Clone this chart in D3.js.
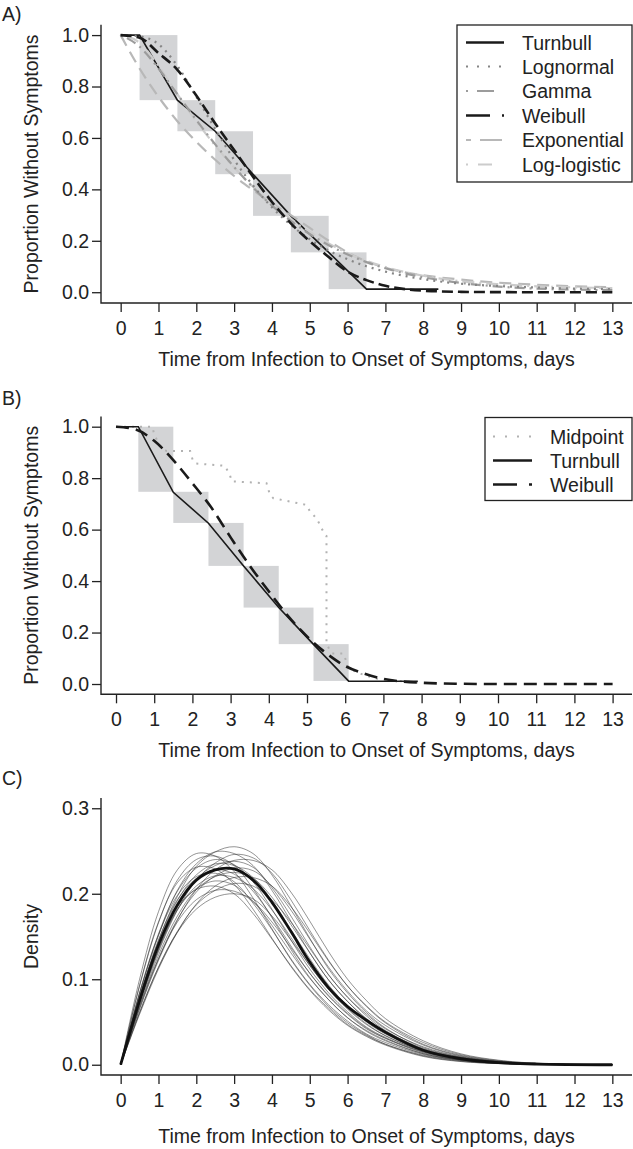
<!DOCTYPE html>
<html><head><meta charset="utf-8">
<script src="https://cdn.jsdelivr.net/npm/d3@7"></script>
<style>body{margin:0;background:#fff}svg{display:block}</style>
</head><body><svg id="chart" width="633" height="1149"></svg>
<script>
// ---------------- data ----------------
const dayTicks = [0,1,2,3,4,5,6,7,8,9,10,11,12,13];
const survTicks = [0,0.2,0.4,0.6,0.8,1.0];
const densTicks = [0,0.1,0.2,0.3];
const xTitle = "Time from Infection to Onset of Symptoms, days";
const survTitle = "Proportion Without Symptoms";
const densTitle = "Density";

// Panel A
const gridA = [0,0.5,1,1.5,2,2.5,3,3.5,4,4.5,5,5.5,6,6.5,7,8,9,10,11,12,13];
const weibullA     = [1,0.99,0.93,0.865,0.765,0.656,0.553,0.449,0.351,0.268,0.198,0.137,0.08,0.047,0.025,0.006,0.0015,0.0003,0,0,0];
const lognormalA   = [1,0.995,0.965,0.88,0.76,0.635,0.515,0.415,0.33,0.262,0.206,0.162,0.128,0.101,0.08,0.051,0.033,0.024,0.018,0.014,0.012];
const gammaA       = [1,0.955,0.87,0.77,0.67,0.575,0.487,0.407,0.337,0.277,0.226,0.183,0.147,0.117,0.093,0.058,0.036,0.022,0.014,0.01,0.008];
const exponentialA = [1,0.87,0.76,0.665,0.585,0.515,0.452,0.397,0.345,0.3,0.25,0.2,0.155,0.12,0.095,0.066,0.049,0.037,0.029,0.023,0.019];
const loglogisticA = [1,0.97,0.88,0.77,0.665,0.57,0.485,0.41,0.345,0.285,0.235,0.19,0.152,0.122,0.098,0.064,0.043,0.031,0.023,0.019,0.016];
const turnbullTimeA = [0,0.5,1.5,2.5,3.5,4.5,5.5,6.5,8.4];
const turnbullSurvA = [1,1,0.747,0.626,0.459,0.297,0.155,0.012,0.012];
const boxLeftA  = [0.5,1.5,2.5,3.5,4.5,5.5];
const boxRightA = [1.5,2.5,3.5,4.5,5.5,6.5];
const boxUpper  = [1.0,0.747,0.626,0.459,0.297,0.155];
const boxLower  = [0.747,0.626,0.459,0.297,0.155,0.012];

// Panel B
const weibullB = [1,0.99,0.945,0.87,0.78,0.685,0.57,0.46,0.36,0.265,0.185,0.12,0.07,0.04,0.02,0.005,0.001,0,0,0,0];
const turnbullTimeB = [0,0.584,1.5,2.42,3.34,4.26,5.17,6.09,7.9];
const turnbullSurvB = [1,1,0.745,0.625,0.459,0.297,0.154,0.011,0.011];
const boxLeftB  = [0.584,1.5,2.42,3.34,4.26,5.17];
const boxRightB = [1.5,2.42,3.34,4.26,5.17,6.09];
const midpointTimeB = [0,0.95,1.0,1.1,1.24,1.33,1.94,2.02,2.1,2.85,2.98,3.03,3.1,3.94,4.03,4.12,4.99,5.08,5.25,5.34,5.47,5.51,5.51,5.6,5.65,5.95,6.1,6.4,6.6,6.85,7.4,8.0];
const midpointSurvB = [1,1,0.97,0.94,0.91,0.906,0.906,0.864,0.857,0.848,0.813,0.787,0.787,0.78,0.735,0.722,0.696,0.67,0.644,0.618,0.579,0.575,0.158,0.13,0.119,0.119,0.06,0.04,0.03,0.02,0.012,0.005];

// Panel C
const gridC = [0,0.5,1,1.5,2,2.5,3,3.5,4,4.5,5,5.5,6,6.5,7,8,9,10,11,13];
const densityFit = [0,0.075,0.14,0.187,0.216,0.228,0.229,0.216,0.19,0.156,0.12,0.09,0.068,0.052,0.038,0.017,0.007,0.0025,0.0008,0];
const densityDraws = [
 [0,.100,.179,.228,.247,.244,.226,.195,.159,.123,.093,.068,.049,.035,.024,.0104,.004,.0014,.0004,0],
 [0,.093,.167,.213,.231,.229,.211,.182,.148,.115,.087,.064,.046,.033,.023,.0097,.0037,.0013,.0003,0],
 [0,.092,.166,.216,.240,.244,.233,.206,.172,.135,.102,.076,.055,.039,.028,.013,.0054,.0019,.0007,0],
 [0,.084,.152,.198,.220,.224,.214,.189,.158,.124,.094,.070,.051,.036,.026,.012,.005,.0017,.0006,0],
 [0,.079,.142,.185,.205,.209,.2,.177,.147,.116,.088,.066,.047,.034,.024,.011,.0046,.0016,.0006,0],
 [0,.084,.153,.203,.230,.240,.234,.214,.182,.146,.112,.084,.062,.044,.032,.015,.0062,.0023,.0008,0],
 [0,.080,.146,.193,.218,.228,.223,.203,.173,.139,.107,.080,.059,.042,.031,.014,.0059,.0021,.0007,0],
 [0,.075,.137,.182,.206,.215,.210,.191,.163,.131,.101,.076,.055,.040,.029,.013,.0056,.002,.0007,0],
 [0,.083,.151,.204,.235,.249,.247,.233,.204,.168,.131,.099,.074,.053,.038,.018,.0078,.0028,.0009,0],
 [0,.078,.143,.192,.222,.235,.233,.219,.192,.158,.124,.093,.069,.050,.036,.017,.0073,.0026,.0008,0],
 [0,.073,.134,.181,.209,.221,.219,.206,.181,.149,.116,.088,.065,.047,.034,.016,.0069,.0024,.0008,0],
 [0,.068,.124,.167,.193,.204,.203,.191,.167,.137,.107,.081,.060,.043,.031,.015,.0064,.0023,.0007,0],
 [0,.078,.145,.197,.232,.249,.255,.247,.222,.186,.148,.112,.084,.061,.043,.020,.0089,.0033,.001,0],
 [0,.073,.135,.184,.217,.233,.238,.231,.207,.174,.138,.105,.079,.057,.040,.019,.0083,.0031,.001,0],
 [0,.069,.128,.174,.205,.220,.225,.218,.196,.164,.131,.099,.074,.054,.038,.018,.0079,.0029,.0009,0],
 [0,.061,.114,.155,.182,.196,.2,.194,.174,.146,.116,.088,.066,.048,.034,.016,.007,.0026,.0008,0],
 [0,.071,.132,.181,.216,.236,.246,.242,.224,.193,.157,.122,.092,.068,.049,.024,.0108,.0042,.0014,0],
 [0,.066,.124,.170,.202,.221,.230,.227,.209,.181,.147,.114,.086,.063,.046,.023,.0101,.0039,.0013,0],
 [0,.061,.114,.156,.187,.204,.212,.209,.193,.167,.136,.105,.079,.059,.042,.021,.0093,.0036,.0012,0],
 [0,.065,.122,.169,.205,.228,.239,.239,.228,.202,.168,.132,.100,.075,.054,.028,.0127,.0053,.0018,0],
 [0,.059,.112,.155,.188,.209,.219,.219,.209,.185,.154,.121,.092,.069,.050,.026,.0117,.0048,.0017,0]
];

// ---------------- drawing ----------------
const FONT = "'Liberation Sans', Arial, Helvetica, sans-serif";
const FS = 19.5;
const INK = "#222";
const svg = d3.select("#chart");
const LEFT = 101, RIGHT = 632;

function frame(o) {
  const gx = svg.append("g").attr("transform", `translate(0,${o.bottom})`)
    .call(d3.axisBottom(o.x).tickValues(dayTicks).tickSize(9).tickPadding(9).tickSizeOuter(0));
  gx.select(".domain").remove();
  const gy = svg.append("g").attr("transform", `translate(${LEFT},0)`)
    .call(d3.axisLeft(o.y).tickValues(o.yTicks).tickFormat(d3.format(".1f")).tickSize(9).tickPadding(3).tickSizeOuter(0));
  gy.select(".domain").remove();
  [gx, gy].forEach(g => {
    g.attr("font-size", FS).attr("font-family", FONT);
    g.selectAll(".tick line").attr("stroke", INK).attr("stroke-width", 1.3);
    g.selectAll(".tick text").attr("fill", INK);
  });
  svg.append("path").attr("d", `M${LEFT},${o.top}V${o.bottom}H${RIGHT}`)
    .attr("fill", "none").attr("stroke", INK).attr("stroke-width", 1.4);
  svg.append("text").attr("x", 2).attr("y", o.labelY).text(o.label)
    .attr("font-family", FONT).attr("font-size", FS).attr("fill", INK);
  svg.append("text").attr("x", (LEFT + RIGHT) / 2).attr("y", o.xTitleY).text(xTitle)
    .attr("text-anchor", "middle").attr("font-family", FONT).attr("font-size", FS).attr("fill", INK);
  svg.append("text").attr("transform", `translate(38,${(o.top + o.bottom) / 2}) rotate(-90)`).text(o.yTitle)
    .attr("text-anchor", "middle").attr("font-family", FONT).attr("font-size", FS).attr("fill", INK);
}

function curve(x, y, xs, ys, style, interp) {
  const line = d3.line().x((d, i) => x(xs[i])).y(d => y(d)).curve(interp || d3.curveMonotoneX);
  const p = svg.append("path").attr("d", line(ys)).attr("fill", "none");
  Object.entries(style).forEach(([k, v]) => p.attr(k, v));
  return p;
}

function boxes(x, y, lefts, rights) {
  svg.append("g").selectAll("rect").data(lefts).join("rect")
    .attr("x", (d) => x(d)).attr("width", (d, i) => x(rights[i]) - x(d))
    .attr("y", (d, i) => y(boxUpper[i])).attr("height", (d, i) => y(boxLower[i]) - y(boxUpper[i]))
    .attr("fill", "#d3d4d6");
}

function legend(x0, y0, w, h, items) {
  svg.append("rect").attr("x", x0).attr("y", y0).attr("width", w).attr("height", h)
    .attr("fill", "#fff").attr("stroke", INK).attr("stroke-width", 1.3);
  items.forEach(it => {
    svg.append("line").attr("x1", it.sx1).attr("x2", it.sx2).attr("y1", it.cy).attr("y2", it.cy)
      .attr("stroke", it.color).attr("stroke-width", it.width).attr("stroke-dasharray", it.dash || null);
    svg.append("text").attr("x", it.tx).attr("y", it.cy + 7).text(it.name)
      .attr("font-family", FONT).attr("font-size", FS).attr("fill", INK);
  });
}

const styles = {
  turnbull:    {stroke: "#1a1a1a", "stroke-width": 1.6},
  lognormal:   {stroke: "#858585", "stroke-width": 2.2, "stroke-dasharray": "2,5"},
  gamma:       {stroke: "#9c9c9c", "stroke-width": 2.2, "stroke-dasharray": "2,5,10,5"},
  weibull:     {stroke: "#1a1a1a", "stroke-width": 2.6, "stroke-dasharray": "11,5"},
  exponential: {stroke: "#b8b8b8", "stroke-width": 2.2, "stroke-dasharray": "12,7"},
  loglogistic: {stroke: "#cccccc", "stroke-width": 2.2, "stroke-dasharray": "2,5,12,5"},
  midpoint:    {stroke: "#b2b2b2", "stroke-width": 2, "stroke-dasharray": "2,6"}
};

// ---- Panel A ----
{
  const x = d3.scaleLinear().domain([-0.52, 13.52]).range([LEFT, RIGHT]);
  const y = d3.scaleLinear().domain([-0.04, 1.04]).range([302.5, 24.8]);
  boxes(x, y, boxLeftA, boxRightA);
  curve(x, y, turnbullTimeA, turnbullSurvA, styles.turnbull, d3.curveLinear);
  curve(x, y, gridA, exponentialA, styles.exponential);
  curve(x, y, gridA, loglogisticA, styles.loglogistic);
  curve(x, y, gridA, gammaA, styles.gamma);
  curve(x, y, gridA, lognormalA, styles.lognormal);
  curve(x, y, gridA, weibullA, styles.weibull);
  frame({x, y, top: 24.8, bottom: 303, yTicks: survTicks, label: "A)", labelY: 21, yTitle: survTitle, xTitleY: 366});
  const sx1 = 466, sx2 = 504, tx = 522;
  legend(457, 25, 175, 157, [
    {name: "Turnbull", cy: 42.5, sx1, sx2, tx, color: "#1a1a1a", width: 2.6},
    {name: "Lognormal", cy: 66.5, sx1, sx2, tx, color: "#858585", width: 2, dash: "2,9"},
    {name: "Gamma", cy: 91, sx1, sx2, tx, color: "#9c9c9c", width: 2, dash: "2,9,17,30"},
    {name: "Weibull", cy: 115.5, sx1, sx2, tx, color: "#1a1a1a", width: 2.6, dash: "24,12,3,30"},
    {name: "Exponential", cy: 140, sx1, sx2, tx, color: "#b8b8b8", width: 2, dash: "5,9,22,30"},
    {name: "Log-logistic", cy: 164.5, sx1, sx2, tx, color: "#cccccc", width: 2, dash: "2,10,14,30"}
  ]);
}

// ---- Panel B ----
{
  const x = d3.scaleLinear().domain([-0.393, 13.508]).range([LEFT, RIGHT]);
  const y = d3.scaleLinear().domain([-0.04, 1.04]).range([694.3, 416.4]);
  boxes(x, y, boxLeftB, boxRightB);
  curve(x, y, midpointTimeB, midpointSurvB, styles.midpoint, d3.curveLinear);
  curve(x, y, turnbullTimeB, turnbullSurvB, styles.turnbull, d3.curveLinear);
  curve(x, y, gridA, weibullB, {stroke: "#1a1a1a", "stroke-width": 2.6, "stroke-dasharray": "13,7"});
  frame({x, y, top: 416.4, bottom: 694.3, yTicks: survTicks, label: "B)", labelY: 405, yTitle: survTitle, xTitleY: 757});
  const sx1 = 493, sx2 = 532, tx = 550;
  legend(485, 417.5, 147, 83, [
    {name: "Midpoint", cy: 436.5, sx1, sx2, tx, color: "#b2b2b2", width: 2, dash: "2,10"},
    {name: "Turnbull", cy: 460.5, sx1, sx2, tx, color: "#1a1a1a", width: 2.6},
    {name: "Weibull", cy: 484.5, sx1, sx2, tx, color: "#1a1a1a", width: 2.6, dash: "24,12,3,30"}
  ]);
}

// ---- Panel C ----
{
  const x = d3.scaleLinear().domain([-0.52, 13.52]).range([LEFT, RIGHT]);
  const y = d3.scaleLinear().domain([-0.012, 0.312]).range([1075, 798]);
  const smooth = d3.curveCatmullRom.alpha(0.5);
  densityDraws.forEach(ds => curve(x, y, gridC, ds, {stroke: "#2a2a2a", "stroke-width": 1, "stroke-opacity": 0.5}, smooth));
  curve(x, y, gridC, densityFit, {stroke: "#111", "stroke-width": 2.8}, smooth);
  frame({x, y, top: 798, bottom: 1075, yTicks: densTicks, label: "C)", labelY: 785, yTitle: densTitle, xTitleY: 1143});
}
</script>
</body></html>
